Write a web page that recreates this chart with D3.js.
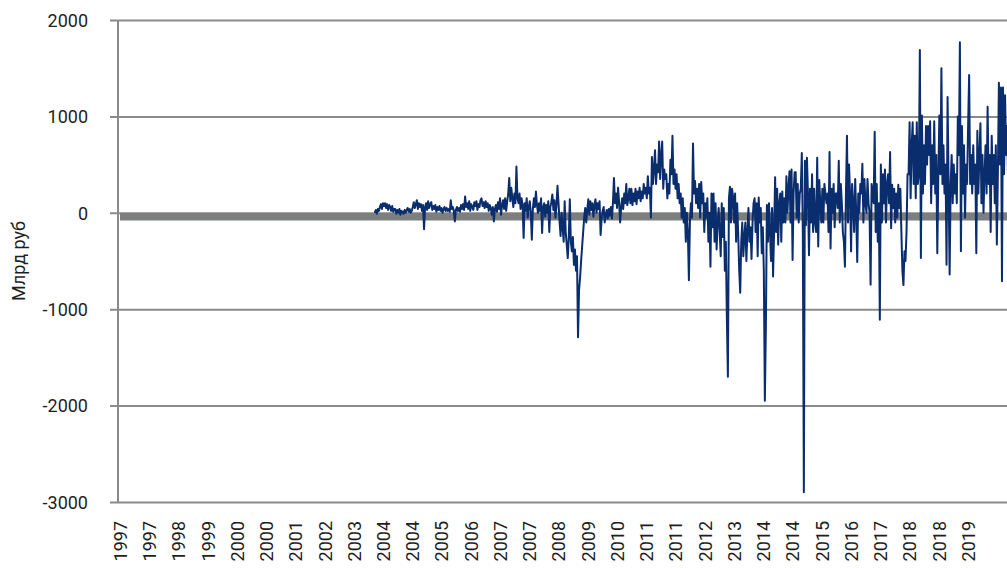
<!DOCTYPE html>
<html>
<head>
<meta charset="utf-8">
<script src="https://cdn.jsdelivr.net/npm/d3@7"></script>
<style>
  html, body { margin: 0; padding: 0; background: #fff; overflow: hidden; }
  svg { display: block; font-family: Roboto, "Noto Sans", Arial, sans-serif; }
</style>
</head>
<body>
<svg id="chart" width="1007" height="568"></svg>
<script>
// ---------- data ----------
const xTickLabels = ["1997","1997","1998","1999","2000","2000","2001","2002","2003","2004",
  "2004","2005","2006","2007","2007","2008","2009","2010","2011","2011",
  "2012","2013","2014","2014","2015","2016","2017","2018","2018","2019"];
const yTicks = [-3000, -2000, -1000, 0, 1000, 2000];
const yTitle = "Млрд руб";

// Series: one value every 10 days starting from seriesStart (млрд руб)
const seriesStart = "2003-10-19";
const seriesStepDays = 10;
const seriesValues = [
  0, 30, -10, 40, 20, 60, 90, 40, 100, 70,
  100, 50, 90, 30, 80, 60, 20, 70, 10, 40,
  40, -10, 30, 0, 40, -20, 20, 10, -10, 30,
  0, 30, 50, 10, 40, 0, 20, 60, 110, 50,
  90, 130, 40, 100, 60, 90, 20, 80, -170, 60,
  100, 30, 120, 50, 90, 110, 30, 70, 40, 80,
  10, 60, 30, 70, 20, 50, 0, 40, 60, 20,
  50, 20, 40, 10, 130, 40, 60, 20, -90, 30,
  60, 20, 50, 10, 80, 40, 90, 30, 170, 60,
  100, 40, 120, 20, 90, 60, 30, 110, 70, 120,
  30, 90, 60, 130, 150, 70, 110, 50, 120, 60,
  100, 20, 80, 50, -20, 60, -90, 40, 80, 10,
  110, 40, 150, -20, 80, 130, 40, 150, 20, 120,
  200, 360, 120, 260, 150, 60, 200, 100, 480, 150,
  100, 200, 40, 150, 80, -260, 100, 20, 150, -50,
  60, 120, 0, -280, 40, 150, 60, 220, 80, 0,
  100, 20, 150, -210, 60, 100, -40, 80, 0, 120,
  -200, 60, 110, 190, 30, 130, -50, 80, 280, 100,
  -90, -240, 0, -150, -300, 120, -200, -330, -470, -250,
  140, -300, -400, -250, -540, -380, -600, -450, -1290, -800,
  -670, -500, -350, -200, -50, 50, -100, 30, 140, -20,
  120, 30, 100, -40, 80, 140, 0, 100, 40, 120,
  -230, -60, 20, 60, -100, -20, 30, -60, 40, -30,
  60, -60, 100, 360, 100, 200, 50, 260, 120, -100,
  50, 150, 40, 200, 100, 300, 80, 150, 250, 100,
  250, 80, 200, 120, 250, 90, 220, 150, 260, 120,
  220, 150, 300, 200, 260, 150, 380, 200, 260, -50,
  580, 300, 450, 650, 300, 500, 420, 740, 350, 600,
  740, 250, 450, 350, 400, 150, 300, 200, 550, 400,
  800, 300, 450, 250, 400, 150, 300, 100, 200, -50,
  150, -100, 50, -300, 0, -200, -700, -100, 100, -50,
  720, 200, 330, 100, 250, 50, 300, -50, 320, 100,
  200, -200, 100, -50, 150, -300, 0, -560, 200, -150,
  200, -300, 100, -380, -100, 50, -200, -450, 100, -250,
  50, -600, -300, -1100, -1700, 150, 270, -100, 250, 170,
  -100, 200, -300, 100, -200, -590, -830, -300, -100, -450,
  -250, -100, -500, -200, 50, -300, -150, -480, -100, 100,
  150, -200, 100, -450, 160, -100, 50, -420, -150, -600,
  -1950, -1170, 80, -300, 100, -200, -500, 50, -660, -200,
  370, -200, 250, -330, 100, 200, -300, 220, -100, 150,
  -100, 380, 0, 250, 430, -100, 450, -490, 200, 420,
  420, -50, 300, -100, 200, 250, 620, -200, -2900, 540,
  -130, 570, 200, -440, 250, -100, 400, -200, 250, -100,
  -200, 570, -350, 340, 100, -100, 250, -100, 300, 200,
  100, 200, -200, 630, -370, 250, 0, 300, -150, 200,
  200, 50, 540, -100, 300, 100, -200, -300, -560, 200,
  800, -100, 500, 200, -400, 300, 100, -200, 350, 0,
  -510, 200, 0, 300, 200, 510, -100, 350, 100, 0,
  350, 100, 0, -745, 300, 200, 100, 840, -200, 300,
  -300, 100, -1110, 500, -100, 400, 100, 450, -100, 300,
  400, 100, 630, -160, 290, 50, 250, -100, 200, -50,
  290, 50, 250, -200, -600, -750, -400, -500, -200, 400,
  400, 940, 150, 700, 940, 300, 800, 150, 940, 300,
  400, 1690, -470, 1010, 200, 700, 300, 900, 500, 900,
  600, 950, 100, 700, 300, 950, 200, 600, -420, 400,
  1010, 400, 1500, 300, 700, 200, 500, -540, 1200, 300,
  -640, 300, 600, 100, 500, 200, 400, 100, 1000, 600,
  1770, -400, 900, 200, 700, -50, 500, 300, 900, 1430,
  300, 600, 200, 700, 300, 500, -420, 850, 200, 600,
  930, 100, 600, 0, 400, 700, 200, 1100, 300, 600,
  -200, 800, 300, 600, 100, 700, -330, 400, 1350, 500,
  1300, -710, 1300, 400, 1220, 600, 900, 300, 700, 500
];

// Grey reference band (млрд руб)
const bandDates = ["1997-01-01", "2021-06-30"];
const bandValues = [-40, -40];

// ---------- layout ----------
const W = 1007, H = 568;
const axisX = 118, plotTop = 20, plotBottom = 502, plotRight = 1007;
const firstLabelX = 120, lastLabelX = 968;

const svg = d3.select("#chart");

const parse = d3.utcParse("%Y-%m-%d");
const xTime = d3.scaleUtc()
  .domain([parse("1997-01-01"), parse("2019-08-15")])
  .range([firstLabelX, lastLabelX]);

const xCat = d3.scalePoint()
  .domain(d3.range(xTickLabels.length))
  .range([firstLabelX, lastLabelX]);

const y = d3.scaleLinear().domain([-3000, 2000]).range([plotBottom, plotTop]);

const start = parse(seriesStart);
const series = seriesValues.map((v, i) => ({ date: d3.utcDay.offset(start, i * seriesStepDays), value: v }));
const band = bandDates.map((d, i) => ({ date: parse(d), value: bandValues[i] }));

// gridlines + y axis
const yAxis = d3.axisLeft(y)
  .tickValues(yTicks)
  .tickSizeInner(-(plotRight - axisX))
  .tickSizeOuter(0)
  .tickPadding(30)
  .tickFormat(d => String(d));

const gY = svg.append("g").attr("transform", `translate(${axisX},0)`).call(yAxis);
gY.select(".domain").remove();
gY.selectAll(".tick line")
  .attr("x1", -8)
  .attr("stroke", "#8a8a8a")
  .attr("stroke-width", 2);
gY.selectAll(".tick text")
  .attr("x", 88 - axisX)
  .attr("dy", "0.35em")
  .attr("fill", "#1e1e1e")
  .style("font-size", "18px")
  .style("font-family", "Roboto, sans-serif");

// vertical axis line
svg.append("line")
  .attr("x1", axisX).attr("x2", axisX)
  .attr("y1", y(2000)).attr("y2", y(-3000))
  .attr("stroke", "#8a8a8a").attr("stroke-width", 2);

// x axis labels
const xAxis = d3.axisBottom(xCat)
  .tickSize(0)
  .tickFormat(i => xTickLabels[i]);
const gX = svg.append("g").attr("transform", `translate(0,${plotBottom})`).call(xAxis);
gX.select(".domain").remove();
gX.selectAll(".tick text")
  .attr("transform", "rotate(-90)")
  .attr("text-anchor", "end")
  .attr("x", -19)
  .attr("y", 0)
  .attr("dy", "0.35em")
  .attr("fill", "#1e1e1e")
  .style("font-size", "18px")
  .style("font-family", "Roboto, sans-serif");

// clip for plotted data
svg.append("clipPath").attr("id", "plotclip")
  .append("rect").attr("x", axisX).attr("y", 0).attr("width", W - axisX).attr("height", H);

const line = d3.line().x(d => xTime(d.date)).y(d => y(d.value));

svg.append("path")
  .datum(band)
  .attr("clip-path", "url(#plotclip)")
  .attr("d", line)
  .attr("fill", "none")
  .attr("stroke", "#7d7f7f")
  .attr("stroke-width", 7.5);

svg.append("path")
  .datum(series)
  .attr("clip-path", "url(#plotclip)")
  .attr("d", line)
  .attr("fill", "none")
  .attr("stroke", "#0a2d6e")
  .attr("stroke-width", 2)
  .attr("stroke-linejoin", "round");

// y-axis title
svg.append("text")
  .attr("transform", "translate(25,261) rotate(-90)")
  .attr("text-anchor", "middle")
  .attr("fill", "#1e1e1e")
  .style("font-size", "18px")
  .style("font-family", "Roboto, sans-serif")
  .text(yTitle);
</script>
</body>
</html>
